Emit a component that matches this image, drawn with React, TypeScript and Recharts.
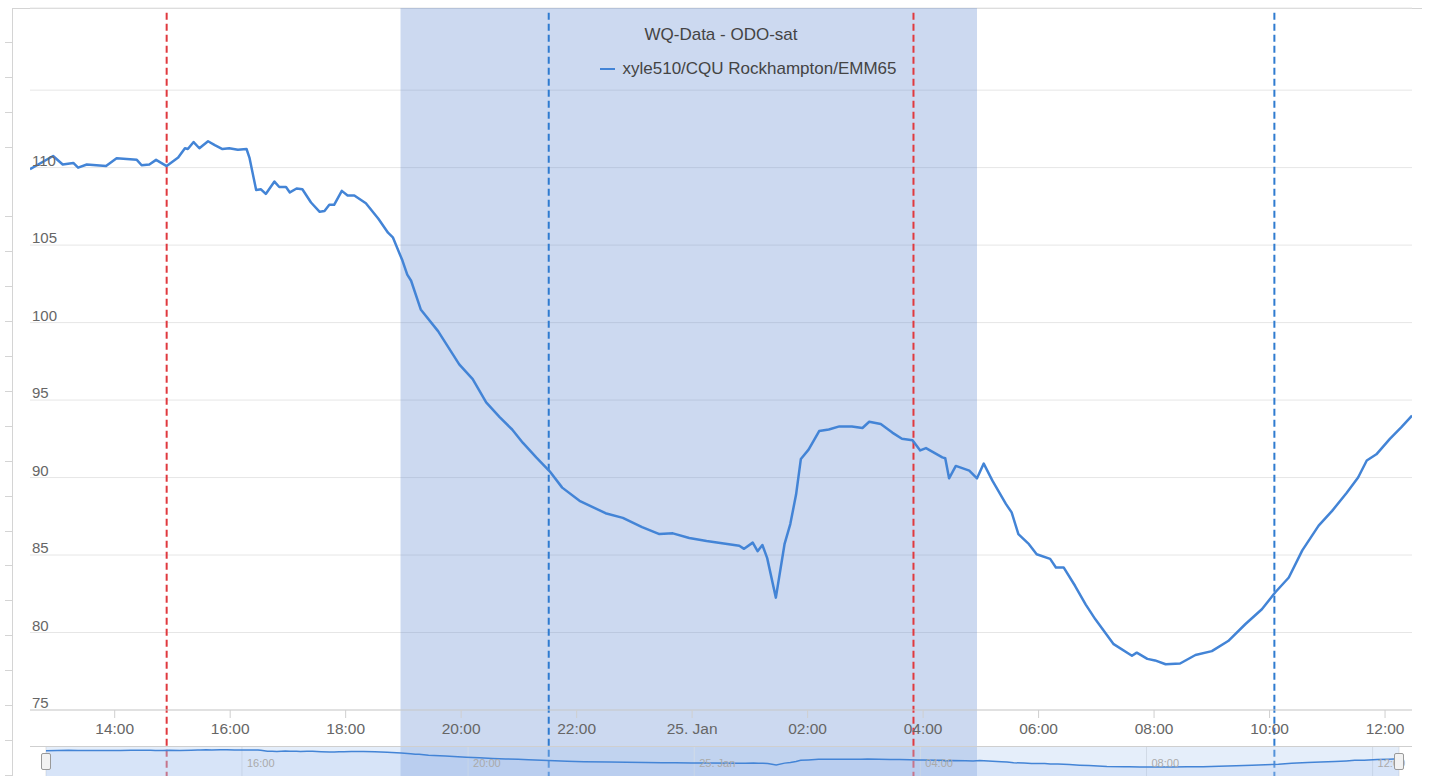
import React from 'react';
import {
  LineChart, Line, AreaChart, Area, XAxis, YAxis, CartesianGrid,
  ReferenceArea, ReferenceLine, Legend,
} from 'recharts';

// readings from 24 Jan 12:32 to 25 Jan 12:28 (times roll over at midnight)
const times = [
  '12:32', '12:56', '13:06', '13:17', '13:22', '13:31', '13:51', '14:02', '14:23', '14:28',
  '14:36', '14:43', '14:54', '15:06', '15:13', '15:16', '15:22', '15:28', '15:37', '15:44',
  '15:52', '15:59', '16:08', '16:17', '16:20', '16:27', '16:32', '16:37', '16:46', '16:51',
  '16:58', '17:02', '17:09', '17:15', '17:24', '17:33', '17:38', '17:43', '17:48', '17:56',
  '18:02', '18:09', '18:21', '18:34', '18:44', '18:49', '18:59', '19:04', '19:08', '19:18',
  '19:36', '19:58', '20:12', '20:26', '20:40', '20:53', '21:04', '21:18', '21:32', '21:45',
  '22:03', '22:30', '22:48', '23:08', '23:26', '23:40', '23:57', '00:15', '00:49', '00:54',
  '01:03', '01:08', '01:13', '01:18', '01:27', '01:36', '01:42', '01:48', '01:53', '02:01',
  '02:12', '02:22', '02:33', '02:46', '02:57', '03:04', '03:16', '03:28', '03:38', '03:49',
  '03:57', '04:03', '04:20', '04:23', '04:27', '04:34', '04:48', '04:56', '05:03', '05:12',
  '05:26', '05:32', '05:39', '05:50', '05:58', '06:12', '06:18', '06:26', '06:38', '06:49',
  '06:59', '07:18', '07:37', '07:42', '07:53', '08:01', '08:12', '08:27', '08:43', '09:00',
  '09:17', '09:35', '09:52', '10:06', '10:20', '10:34', '10:51', '11:05', '11:20', '11:32',
  '11:41', '11:51', '12:05', '12:17', '12:28',
];

const odoSat = [
  109.9, 110.75, 110.2, 110.3, 110.0, 110.2, 110.1, 110.6, 110.5, 110.15,
  110.2, 110.5, 110.1, 110.65, 111.25, 111.2, 111.65, 111.25, 111.7, 111.45,
  111.2, 111.25, 111.15, 111.2, 110.65, 108.55, 108.6, 108.3, 109.1, 108.75,
  108.75, 108.4, 108.65, 108.6, 107.75, 107.15, 107.2, 107.6, 107.6, 108.5,
  108.2, 108.2, 107.7, 106.7, 105.8, 105.5, 104.0, 103.1, 102.7, 100.85,
  99.45, 97.3, 96.35, 94.85, 93.9, 93.1, 92.25, 91.3, 90.4, 89.35,
  88.5, 87.7, 87.4, 86.8, 86.35, 86.4, 86.1, 85.9, 85.6, 85.4,
  85.8, 85.25, 85.65, 84.8, 82.25, 85.7, 87.0, 88.9, 91.2, 91.8,
  93.0, 93.1, 93.3, 93.3, 93.2, 93.6, 93.45, 92.9, 92.5, 92.4,
  91.75, 91.9, 91.3, 91.25, 89.95, 90.75, 90.45, 89.95, 90.9, 89.8,
  88.3, 87.75, 86.35, 85.7, 85.05, 84.75, 84.2, 84.2, 83.0, 81.8,
  80.85, 79.25, 78.5, 78.7, 78.3, 78.2, 77.95, 78.0, 78.55, 78.8,
  79.45, 80.55, 81.5, 82.6, 83.55, 85.3, 86.9, 87.85, 89.0, 90.0,
  91.1, 91.5, 92.5, 93.25, 94.0,
];

const xTicks = [14, 16, 18, 20, 22, 24, 26, 28, 30, 32, 34, 36];
const navTicks = [16, 20, 24, 28, 32, 36];
const yTicks = [75, 80, 85, 90, 95, 100, 105, 110, 115];

const night = ['24 18:57', '25 04:56'];
const redMarkers = ['24 14:54', '25 03:50'];
const blueMarkers = ['24 21:31', '25 10:05'];

const seriesName = 'xyle510/CQU Rockhampton/EMM65';
const chartTitle = 'WQ-Data - ODO-sat';

const toHours = (hm: string) => {
  const [h, m] = hm.split(':').map(Number);
  return h + m / 60;
};
const at = (s: string) => {
  const [d, hm] = s.split(' ');
  return (Number(d) - 24) * 24 + toHours(hm);
};

let dayOffset = 0;
let prevT = -1;
const data = times.map((s, i) => {
  let t = toHours(s) + dayOffset;
  if (t < prevT) {
    dayOffset += 24;
    t += 24;
  }
  prevT = t;
  return { t, v: odoSat[i] };
});

const xDomain = [data[0].t, data[data.length - 1].t];
const LINE = '#4384d6';
const FONT = '"Liberation Sans", Arial, Helvetica, sans-serif';

const fmtHour = (v: number) =>
  v === 24 ? '25. Jan' : `${String(v % 24).padStart(2, '0')}:00`;

const YTick = (props: any) => {
  const { y, payload } = props;
  if (payload.value > 110) return <g />;
  return (
    <text x={32} y={y - 2} fill="#666" fontSize={15} textAnchor="start">
      {payload.value}
    </text>
  );
};

const NavTick = (props: any) => {
  const { x, payload } = props;
  return (
    <text x={x + 5} y={21} fill="#aaa" fontSize={11} textAnchor="start">
      {fmtHour(payload.value)}
    </text>
  );
};

const TitleLegend = () => (
  <div style={{ fontFamily: FONT, color: '#444' }}>
    <div style={{ textAlign: 'center', fontSize: 17, lineHeight: '26px' }}>{chartTitle}</div>
    <div style={{ display: 'flex', justifyContent: 'center', alignItems: 'center', marginTop: 9, marginLeft: 55 }}>
      <span style={{ display: 'inline-block', width: 15, height: 2, background: LINE, marginRight: 7 }} />
      <span style={{ fontSize: 17, lineHeight: '24px' }}>{seriesName}</span>
    </div>
  </div>
);

const handleStyle = (left: number): React.CSSProperties => ({
  position: 'absolute', left, top: 753, width: 8, height: 15,
  border: '1px solid #999', borderRadius: 2, background: '#f2f2f2',
});

export default function App() {
  return (
    <div style={{ position: 'absolute', left: 0, top: 0, width: 1429, height: 776, overflow: 'hidden', background: '#fff', fontFamily: FONT }}>
      {/* frame and left ruler */}
      <div style={{ position: 'absolute', left: 12, top: 8, width: 1410, height: 0, borderTop: '1px solid #d4d4d4' }} />
      <div style={{ position: 'absolute', left: 12, top: 8, width: 0, height: 768, borderLeft: '1px solid #d4d4d4' }} />
      <div style={{ position: 'absolute', left: 5, top: 8, width: 7, height: 768, background: 'repeating-linear-gradient(to bottom, transparent 0px, transparent 33.9px, #d4d4d4 33.9px, #d4d4d4 34.9px)' }} />

      <div style={{ position: 'absolute', left: 0, top: 0 }}>
        <LineChart width={1429} height={776} data={data} margin={{ top: 8, right: 17, bottom: 30, left: 29 }}>
          <ReferenceArea
            x1={at(night[0])} x2={at(night[1])} y1={70.5} y2={120.3}
            ifOverflow="visible" fill="rgb(100,140,210)" fillOpacity={0.33} stroke="none"
          />
          <CartesianGrid vertical={false} stroke="#e6e6e6" />
          <XAxis
            dataKey="t" type="number" domain={xDomain} allowDataOverflow ticks={xTicks}
            tickFormatter={fmtHour} height={36} tickSize={8} tickMargin={5}
            stroke="#cfcfcf" tick={{ fill: '#666', fontSize: 15.5 }}
          />
          <YAxis
            domain={[75, 120.3]} allowDataOverflow ticks={yTicks} width={1}
            axisLine={false} tickLine={false} tick={<YTick />} interval={0}
          />
          {redMarkers.map((m) => (
            <ReferenceLine
              key={m} ifOverflow="visible" stroke="#e0393e" strokeWidth={2} strokeDasharray="7 4"
              segment={[{ x: at(m), y: 120 }, { x: at(m), y: 70.5 }]}
            />
          ))}
          {blueMarkers.map((m) => (
            <ReferenceLine
              key={m} ifOverflow="visible" stroke="#2f7bd0" strokeWidth={2} strokeDasharray="7 4"
              segment={[{ x: at(m), y: 120 }, { x: at(m), y: 70.5 }]}
            />
          ))}
          <Line type="linear" dataKey="v" stroke={LINE} strokeWidth={2.5} strokeLinejoin="round" dot={false} isAnimationActive={false} />
          <Legend
            verticalAlign="middle" align="center" layout="horizontal"
            content={TitleLegend}
            wrapperStyle={{ left: 30, top: 22, width: 1382, height: 70 }}
          />
        </LineChart>
      </div>

      {/* navigator */}
      <div style={{ position: 'absolute', left: 30, top: 746, width: 1382, height: 0, borderTop: '1px solid #cfcfcf' }} />
      <div style={{ position: 'absolute', left: 0, top: 746 }}>
        <AreaChart width={1429} height={30} data={data} margin={{ top: 0, right: 30, bottom: 0, left: 46 }}>
          <ReferenceArea
            x1={xDomain[0]} x2={xDomain[1]} y1={60.7} y2={117}
            fill="rgb(170,200,240)" fillOpacity={0.3} stroke="none"
          />
          <CartesianGrid horizontal={false} stroke="#e3e3e3" />
          <XAxis
            dataKey="t" type="number" domain={xDomain} allowDataOverflow ticks={navTicks}
            orientation="top" height={1} axisLine={false} tickLine={false}
            tickSize={0} tickMargin={0} tick={<NavTick />} interval={0}
          />
          <YAxis hide domain={[60.7, 117]} allowDataOverflow />
          <Area
            type="linear" dataKey="v" stroke={LINE} strokeWidth={1.5}
            fill="#9fc0ee" fillOpacity={0.2} isAnimationActive={false}
          />
        </AreaChart>
      </div>
      <div style={handleStyle(41)} />
      <div style={handleStyle(1394)} />
    </div>
  );
}
